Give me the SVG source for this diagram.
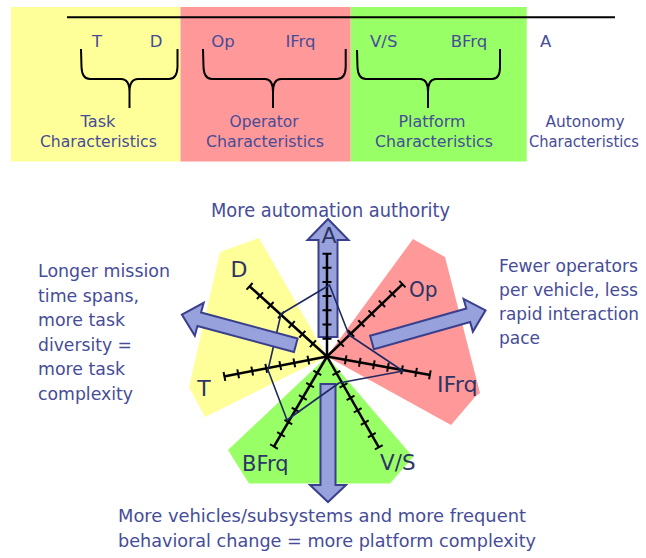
<svg xmlns="http://www.w3.org/2000/svg" xmlns:xlink="http://www.w3.org/1999/xlink" width="646" height="558" viewBox="0 0 646 558">
  <style>
    .txt { font-family: "DejaVu Sans", "Liberation Sans", sans-serif; fill: #464c98; }
    .top { font-size: 16.5px; }
    .desc { font-size: 18.3px; }
    .side { font-size: 17px; }
    .axlbl { font-family: "DejaVu Sans", "Liberation Sans", sans-serif; font-size: 22px; fill: #2e3466; }
    .yellow { fill: #ffff99; }
    .red { fill: #ff9999; }
    .green { fill: #99ff66; }
    .brace { fill: none; stroke: #000; stroke-width: 2; stroke-linejoin: round; }
    .axis { stroke: #000; stroke-width: 2.5; fill: none; }
    .tick { stroke: #000; stroke-width: 2; fill: none; }
    .bigarrow { fill: #97a2dd; stroke: #3a3f8c; stroke-width: 2; stroke-linejoin: miter; }
    .profile { fill: none; stroke: #1f2960; stroke-width: 1.6; stroke-linejoin: round; }
  </style>
  <defs>
    <!-- one radar spoke drawn along +x: the line plus its seven cross ticks -->
    <g id="spoke">
      <line class="axis" x1="0" y1="0" x2="105" y2="0"/>
      <path class="tick" d="M19,-4.5V4.5M33.3,-4.5V4.5M47.6,-4.5V4.5M61.9,-4.5V4.5M76.2,-4.5V4.5M90.5,-4.5V4.5M104.5,-4.5V4.5"/>
    </g>
    <!-- side arrow pointing along +x from its tail -->
    <path id="sideArrow" d="M0,-7 H100 V-17 L118,0 L100,17 V7 H0 Z"/>
  </defs>

  <!-- ===== Characteristic bands ===== -->
  <g id="task-band">
    <rect class="yellow" x="11" y="7" width="169.5" height="154.5"/>
    <text class="txt top" x="97" y="46.7" text-anchor="middle">T</text>
    <text class="txt top" x="156" y="46.7" text-anchor="middle">D</text>
    <text class="txt top" x="98" y="126.7" text-anchor="middle" textLength="35" lengthAdjust="spacingAndGlyphs">Task</text>
    <text class="txt top" x="98.4" y="146.7" text-anchor="middle" textLength="117" lengthAdjust="spacingAndGlyphs">Characteristics</text>
  </g>
  <g id="operator-band">
    <rect class="red" x="180.5" y="7" width="170.2" height="154.5"/>
    <text class="txt top" x="223" y="46.7" text-anchor="middle">Op</text>
    <text class="txt top" x="300.5" y="46.7" text-anchor="middle">IFrq</text>
    <text class="txt top" x="264" y="126.7" text-anchor="middle" textLength="69" lengthAdjust="spacingAndGlyphs">Operator</text>
    <text class="txt top" x="265" y="146.7" text-anchor="middle" textLength="118" lengthAdjust="spacingAndGlyphs">Characteristics</text>
  </g>
  <g id="platform-band">
    <rect class="green" x="350.7" y="7" width="176" height="154.5"/>
    <text class="txt top" x="383.7" y="46.7" text-anchor="middle">V/S</text>
    <text class="txt top" x="469" y="46.7" text-anchor="middle">BFrq</text>
    <text class="txt top" x="432" y="126.7" text-anchor="middle" textLength="67" lengthAdjust="spacingAndGlyphs">Platform</text>
    <text class="txt top" x="434" y="146.7" text-anchor="middle" textLength="118" lengthAdjust="spacingAndGlyphs">Characteristics</text>
  </g>
  <g id="autonomy-band">
    <text class="txt top" x="545.7" y="46.7" text-anchor="middle">A</text>
    <text class="txt top" x="585" y="126.7" text-anchor="middle" textLength="79" lengthAdjust="spacingAndGlyphs">Autonomy</text>
    <text class="txt" font-size="15.3" x="584" y="146.7" text-anchor="middle" textLength="110" lengthAdjust="spacingAndGlyphs">Characteristics</text>
  </g>

  <!-- timeline rule and grouping braces -->
  <g id="connectors">
    <line x1="67" y1="17.3" x2="615" y2="17.3" stroke="#000" stroke-width="2"/>
    <path class="brace" d="M81,49 L81.5,67 Q82,79 90,79 L121,79 Q129.5,79 129.5,92 L129.5,108 M129.5,92 Q129.5,79 138,79 L169,79 Q177,79 177.5,67 L177.5,49"/>
    <path class="brace" d="M203,49 L203.5,67 Q204,79 212,79 L265,79 Q273,79 273,92 L273,108 M273,92 Q273,79 281,79 L337,79 Q345.5,79 345.7,67 L345.7,49"/>
    <path class="brace" d="M357,50 L357.5,67 Q358,79 366,79 L420,79 Q428,79 428,92 L428,108 M428,92 Q428,79 436,79 L492,79 Q500,79 500,67 L500,49"/>
  </g>

  <!-- ===== Radar chart ===== -->
  <g id="sectors">
    <polygon class="yellow" points="220,252 259,238 327,356.5 205,417 189,387"/>
    <polygon class="red" points="327,356.5 413,239 445,257 480,393 475,397 451,425"/>
    <polygon class="green" points="327,356.5 228,450 249,483.5 390,483.5 413,457"/>
  </g>

  <g id="arrow-autonomy">
    <path class="bigarrow" d="M318.5,337 V240 H307.5 L328,219 L348.5,240 H337.5 V337 Z"/>
  </g>
  <g id="arrow-platform">
    <path class="bigarrow" d="M320.5,384 V485 H310 L328,502 L346,485 H335.5 V384 Z"/>
  </g>

  <g id="axes">
    <g id="axis-A" transform="translate(327 356.5) rotate(-90)">
      <line class="axis" x1="0" y1="0" x2="103.2" y2="0"/>
      <path class="tick" d="M17.8,-4.5V4.5M32,-4.5V4.5M46.2,-4.5V4.5M60.4,-4.5V4.5M74.6,-4.5V4.5M88.8,-4.5V4.5M102.8,-4.5V4.5"/>
    </g>
    <g id="axis-Op" transform="translate(327 356.5) rotate(-43.8)"><use href="#spoke" xlink:href="#spoke"/></g>
    <g id="axis-IFrq" transform="translate(327 356.5) rotate(10.1)"><use href="#spoke" xlink:href="#spoke"/></g>
    <g id="axis-VS" transform="translate(327 356.5) rotate(60.3)"><use href="#spoke" xlink:href="#spoke"/></g>
    <g id="axis-BFrq" transform="translate(327 356.5) rotate(120.5)"><use href="#spoke" xlink:href="#spoke"/></g>
    <g id="axis-T" transform="translate(327 356.5) rotate(169)"><use href="#spoke" xlink:href="#spoke"/></g>
    <g id="axis-D" transform="translate(327 356.5) rotate(-137.8)"><use href="#spoke" xlink:href="#spoke"/></g>
  </g>

  <g id="profile">
    <polygon class="profile" points="329.5,285 349,335 403,371 339,383 287,420 268,370 281,314"/>
  </g>

  <g id="arrow-task">
    <use href="#sideArrow" xlink:href="#sideArrow" class="bigarrow" transform="translate(295.8 345.3) rotate(195.1)"/>
  </g>
  <g id="arrow-operator">
    <use href="#sideArrow" xlink:href="#sideArrow" class="bigarrow" transform="translate(372 342.5) rotate(-15.8)"/>
  </g>

  <!-- spoke labels -->
  <g id="labels">
    <text class="axlbl" x="329" y="243" text-anchor="middle">A</text>
    <text class="axlbl" x="239" y="277" text-anchor="middle">D</text>
    <text class="axlbl" x="409" y="297" textLength="28.5" lengthAdjust="spacingAndGlyphs">Op</text>
    <text class="axlbl" x="437" y="392" textLength="40.5" lengthAdjust="spacingAndGlyphs">IFrq</text>
    <text class="axlbl" x="204" y="396" text-anchor="middle">T</text>
    <text class="axlbl" x="242" y="471" textLength="46.5" lengthAdjust="spacingAndGlyphs">BFrq</text>
    <text class="axlbl" x="380" y="470" textLength="35.5" lengthAdjust="spacingAndGlyphs">V/S</text>
  </g>

  <!-- direction captions -->
  <g id="caption-autonomy">
    <text class="txt" font-size="19" x="211" y="217" textLength="239" lengthAdjust="spacingAndGlyphs">More automation authority</text>
  </g>
  <g id="caption-task">
    <text class="txt desc" x="38" y="277" textLength="132" lengthAdjust="spacingAndGlyphs">Longer mission</text>
    <text class="txt desc" x="38" y="301.6" textLength="101" lengthAdjust="spacingAndGlyphs">time spans,</text>
    <text class="txt desc" x="38" y="326.2" textLength="87" lengthAdjust="spacingAndGlyphs">more task</text>
    <text class="txt desc" x="38" y="350.8" textLength="94" lengthAdjust="spacingAndGlyphs">diversity =</text>
    <text class="txt desc" x="38" y="375.4" textLength="87" lengthAdjust="spacingAndGlyphs">more task</text>
    <text class="txt desc" x="38" y="400" textLength="95" lengthAdjust="spacingAndGlyphs">complexity</text>
  </g>
  <g id="caption-operator">
    <text class="txt side" x="499" y="272" textLength="139" lengthAdjust="spacingAndGlyphs">Fewer operators</text>
    <text class="txt side" x="499" y="296" textLength="139" lengthAdjust="spacingAndGlyphs">per vehicle, less</text>
    <text class="txt side" x="499" y="320" textLength="140" lengthAdjust="spacingAndGlyphs">rapid interaction</text>
    <text class="txt side" x="499" y="344" textLength="41" lengthAdjust="spacingAndGlyphs">pace</text>
  </g>
  <g id="caption-platform">
    <text class="txt desc" x="118" y="521.5" textLength="408" lengthAdjust="spacingAndGlyphs">More vehicles/subsystems and more frequent</text>
    <text class="txt desc" x="118" y="546.5" textLength="418" lengthAdjust="spacingAndGlyphs">behavioral change = more platform complexity</text>
  </g>
</svg>
